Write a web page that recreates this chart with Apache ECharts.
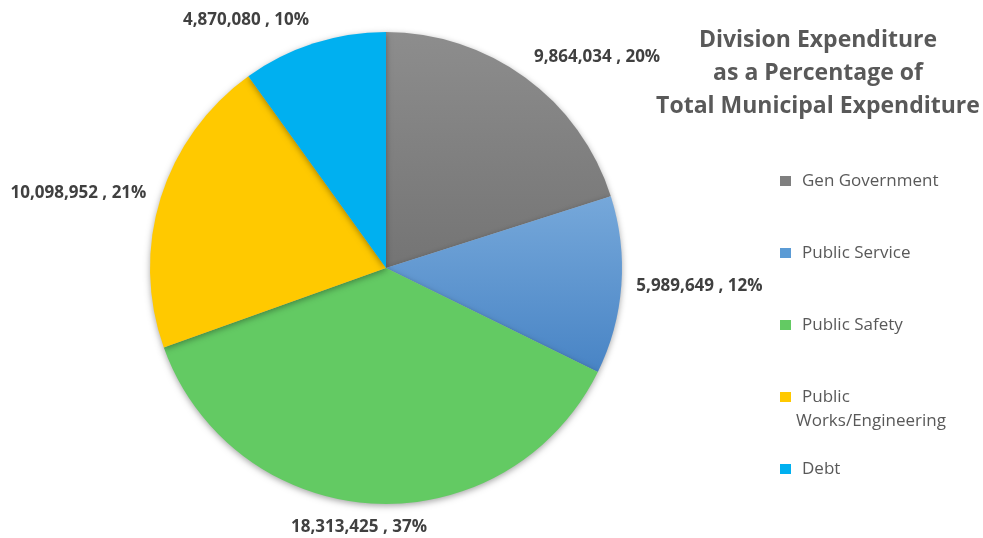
<!DOCTYPE html>
<html>
<head>
<meta charset="utf-8">
<script src="https://cdn.jsdelivr.net/npm/echarts@6/dist/echarts.min.js"></script>
<style>
  html, body { margin: 0; padding: 0; background: #ffffff; }
  #chart { width: 983px; height: 538px; }
</style>
</head>
<body>
<div id="chart"></div>
<script>
// Municipal expenditure by division
const divisions = ['Gen Government', 'Public Service', 'Public Safety', 'Public Works/Engineering', 'Debt'];
const expenditure = [9864034, 5989649, 18313425, 10098952, 4870080];

const FONT = '"Open Sans"';
const CX = 386, CY = 268, R = 236;

const fills = [
  { type: 'linear', x: 0, y: 0, x2: 0, y2: 1, colorStops: [{ offset: 0, color: '#8d8d8d' }, { offset: 1, color: '#747474' }] },
  { type: 'linear', x: 0, y: 0, x2: 0, y2: 1, colorStops: [{ offset: 0, color: '#76a8da' }, { offset: 1, color: '#4884c5' }] },
  '#63ca63',
  '#ffc900',
  '#00b0f0'
];
const legendSwatch = ['#7f7f7f', '#5b9bd5', '#63ca63', '#ffc900', '#00b0f0'];

const total = expenditure.reduce((a, b) => a + b, 0);
// mid-angle of each slice, measured clockwise from 12 o'clock
const midAngles = [];
let acc = 0;
expenditure.forEach(v => {
  midAngles.push((acc + v / 2) / total * Math.PI * 2);
  acc += v;
});

const fmt = n => n.toLocaleString('en-US');
// how far a label box is pushed off its anchor point, per axis
const pushX = t => Math.max(-1, Math.min(1, t / 0.3));
const pushY = t => Math.sign(t) * Math.max(0, Math.min(1, (Math.abs(t) - 0.3) / 0.4));

// every legend entry is three text rows tall with its swatch on the middle row,
// so entries sit on an even pitch even when a name wraps
const legendText = name => name === 'Public Works/Engineering'
  ? '{e| }\n{p|Public}\n{w|Works/Engineering}'
  : '{e| }\n{p|' + name + '}\n{e| }';

const chart = echarts.init(document.getElementById('chart'), null, { renderer: 'canvas' });
chart.setOption({
  animation: false,
  backgroundColor: '#ffffff',
  title: {
    text: 'Division Expenditure\nas a Percentage of\nTotal Municipal Expenditure',
    left: 813,
    top: 19,
    textAlign: 'center',
    textStyle: { fontFamily: FONT, fontSize: 23, fontWeight: 'bold', color: '#595959', lineHeight: 33 }
  },
  legend: {
    orient: 'vertical',
    left: 775,
    top: 140,
    itemWidth: 11,
    itemHeight: 10,
    itemGap: 0,
    icon: 'rect',
    data: divisions.map((d, i) => ({ name: d, itemStyle: { color: legendSwatch[i] } })),
    formatter: legendText,
    textStyle: {
      fontFamily: FONT, fontSize: 17, color: '#595959', lineHeight: 24,
      rich: {
        e: { fontFamily: FONT, fontSize: 17, lineHeight: 24 },
        p: { fontFamily: FONT, fontSize: 17, color: '#595959', lineHeight: 24, padding: [0, 0, 0, 6] },
        w: { fontFamily: FONT, fontSize: 17, color: '#595959', lineHeight: 24 }
      }
    }
  },
  series: [{
    type: 'pie',
    center: [CX, CY],
    radius: R,
    startAngle: 90,
    clockwise: true,
    avoidLabelOverlap: false,
    data: divisions.map((d, i) => ({ name: d, value: expenditure[i], itemStyle: { color: fills[i] } })),
    itemStyle: {
      borderWidth: 0,
      shadowBlur: 6,
      shadowOffsetY: 2,
      shadowColor: 'rgba(0,0,0,0.35)'
    },
    label: {
      show: true,
      position: 'outside',
      formatter: p => fmt(p.value) + ' , ' + Math.round(p.percent) + '%',
      fontFamily: FONT,
      fontSize: 17,
      fontWeight: 'bold',
      color: '#404040'
    },
    labelLine: { show: false },
    labelLayout: params => {
      const a = midAngles[params.dataIndex];
      const dx = Math.sin(a), dy = -Math.cos(a);
      const ax = CX + (R + 15) * dx, ay = CY + (R + 15) * dy;
      const w = params.labelRect.width, h = params.labelRect.height;
      return {
        x: ax + pushX(dx) * w / 2,
        y: ay + pushY(dy) * h / 2,
        align: 'center',
        verticalAlign: 'middle'
      };
    },
    emphasis: { disabled: true }
  }]
});
</script>
</body>
</html>
